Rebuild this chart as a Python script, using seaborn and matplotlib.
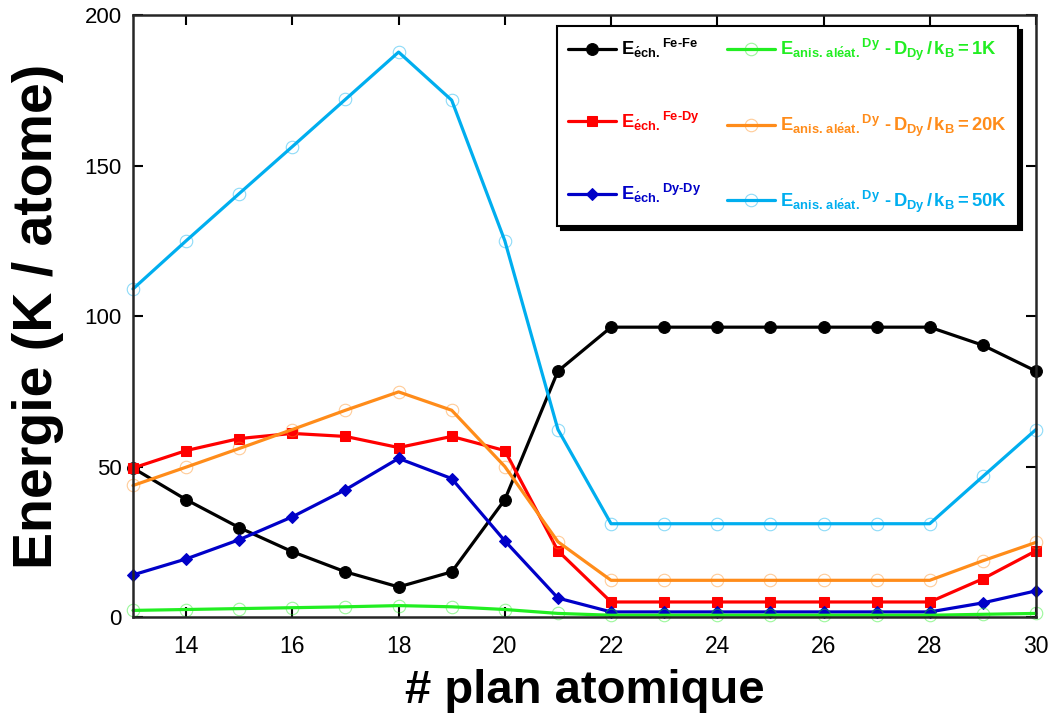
import matplotlib
matplotlib.use("Agg")
import numpy as np
import pandas as pd
import matplotlib.pyplot as plt
import seaborn as sns

# data
plan = list(range(13, 31))
e_fefe = [49.5, 39, 29.7, 21.7, 15, 10, 15, 39, 81.7, 96.3, 96.3, 96.3, 96.3, 96.3, 96.3, 96.3, 90.3, 81.7]
e_fedy = [49.5, 55.3, 59.3, 61, 60, 56.3, 60, 55.3, 22, 5, 5, 5, 5, 5, 5, 5, 12.7, 22]
e_dydy = [14, 19.3, 25.7, 33.3, 42.3, 52.7, 46, 25.3, 6.3, 1.7, 1.7, 1.7, 1.7, 1.7, 1.7, 1.7, 4.7, 8.7]
anis_1k = [2.2, 2.5, 2.8, 3.1, 3.4, 3.8, 3.4, 2.5, 1.2, 0.6, 0.6, 0.6, 0.6, 0.6, 0.6, 0.6, 0.9, 1.2]
anis_20k = [43.7, 49.8, 56, 62.3, 68.7, 74.8, 68.7, 50, 25, 12.2, 12.2, 12.2, 12.2, 12.2, 12.2, 12.2, 18.7, 24.8]
anis_50k = [109, 125, 140.7, 156.3, 172, 187.7, 171.7, 125, 62.3, 31, 31, 31, 31, 31, 31, 31, 46.7, 62.3]

df = pd.DataFrame({'plan': plan, 'fefe': e_fefe, 'fedy': e_fedy, 'dydy': e_dydy,
                   'a1': anis_1k, 'a20': anis_20k, 'a50': anis_50k})

sns.set_style("ticks")
plt.rcParams['font.family'] = ['Liberation Sans', 'DejaVu Sans']
plt.rcParams['mathtext.fontset'] = 'custom'
plt.rcParams['mathtext.bf'] = 'Liberation Sans:bold'
plt.rcParams['mathtext.rm'] = 'Liberation Sans:bold'
plt.rcParams['mathtext.it'] = 'Liberation Sans:bold'
plt.rcParams['text.color'] = 'black'
plt.rcParams['axes.labelcolor'] = 'black'
plt.rcParams['xtick.color'] = 'black'
plt.rcParams['ytick.color'] = 'black'

fig = plt.figure(figsize=(10.54, 7.13), dpi=100)
ax = fig.add_axes([0.1262, 0.1346, 0.8567, 0.8443])

E = r'\mathbf{E}'
lab_fefe = r'$%s_{\mathbf{\acute{e}ch.}}{}^{\mathbf{Fe{\text{-}}Fe}}$' % E
lab_fedy = r'$%s_{\mathbf{\acute{e}ch.}}{}^{\mathbf{Fe{\text{-}}Dy}}$' % E
lab_dydy = r'$%s_{\mathbf{\acute{e}ch.}}{}^{\mathbf{Dy{\text{-}}Dy}}$' % E
def lab_anis(k):
    return (r'$%s_{\mathbf{anis.\,al\acute{e}at.}}{}^{\mathbf{Dy}}\ \mathbf{{\text{-}}\,D}_{\mathbf{Dy}}'
            r'\,\mathbf{/\,k}_{\mathbf{B}}\mathbf{=%sK}$' % (E, k))

lw = 2.3
sns.lineplot(data=df, x='plan', y='fefe', color='black', lw=lw, marker='o', markersize=8.5,
             markeredgecolor='black', label=lab_fefe, ax=ax, clip_on=False)
sns.lineplot(data=df, x='plan', y='fedy', color='#ff0000', lw=lw, marker='s', markersize=7,
             markeredgecolor='#ff0000', label=lab_fedy, ax=ax, clip_on=False)
sns.lineplot(data=df, x='plan', y='dydy', color='#0000c8', lw=lw, marker='D', markersize=6,
             markeredgecolor='#0000c8', label=lab_dydy, ax=ax, clip_on=False)

for col, c, k in [('a1', '#22ee22', '1'), ('a20', '#ff8c1a', '20'), ('a50', '#00aeef', '50')]:
    sns.lineplot(data=df, x='plan', y=col, color=c, lw=lw, marker='o', markersize=9,
                 markerfacecolor='none', markeredgecolor=matplotlib.colors.to_rgba(c, 0.45),
                 markeredgewidth=0.8, label=lab_anis(k), ax=ax, clip_on=False)

ax.set_xlim(13, 30)
ax.set_ylim(0, 200)
ax.set_xticks([14, 16, 18, 20, 22, 24, 26, 28, 30])
ax.set_yticks([0, 50, 100, 150, 200])
ax.tick_params(direction='in', length=7, width=1.5, top=True, right=True, labelsize=16, pad=8)
ax.tick_params(axis='x', labelsize=16.5, pad=13)
for s in ax.spines.values():
    s.set_linewidth(1.8)

ax.set_xlabel('# plan atomique', fontsize=34, fontweight='bold', labelpad=8)
ax.set_ylabel('Energie (K / atome)', fontsize=40, fontweight='bold', labelpad=15)

leg = ax.legend(loc='upper left', bbox_to_anchor=(0.4695, 0.982), ncol=2, fontsize=13.2,
                labelcolor='linecolor', frameon=True, fancybox=False,
                shadow={'color': 'black', 'alpha': 1, 'ox': 3, 'oy': -3},
                handlelength=2.6, handletextpad=0.3, labelspacing=2.7, columnspacing=1.4,
                borderpad=0.6, borderaxespad=0)
leg.get_frame().set_edgecolor('black')
leg.get_frame().set_linewidth(1.5)

fig.savefig('out.png', dpi=100)
